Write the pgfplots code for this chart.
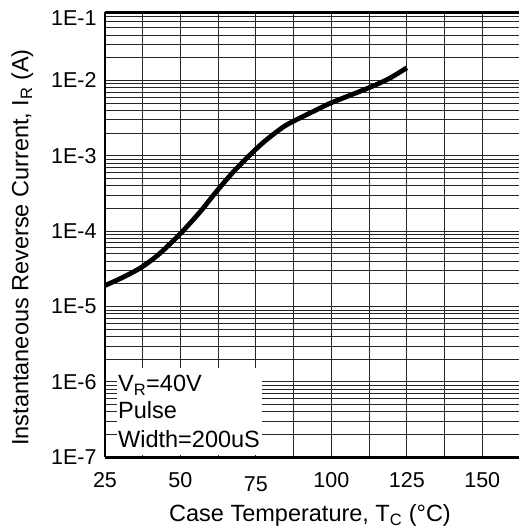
\documentclass[border=0pt]{standalone}
\usepackage{fontspec}
\setmainfont{Liberation Sans}
\usepackage{pgfplots}
\pgfplotsset{compat=1.18}

\newcommand{\bigfont}{\fontsize{23.5}{27}\selectfont}

\begin{document}
\begin{tikzpicture}[font=\fontsize{21.5}{25}\selectfont]
  \begin{axis}[
    scale only axis,
    width=415pt, height=445pt,
    ymode=log,
    xmin=25, xmax=162.5,
    ymin=1e-7, ymax=8e-2,
    xtick={25,50,75,100,125,150},
    xticklabels={25,50,\raisebox{-4pt}{75},100,125,150},
    minor x tick num=1,
    ytick={1e-7,1e-6,1e-5,1e-4,1e-3,1e-2},
    yticklabels={1E-7,1E-6,1E-5,1E-4,1E-3,1E-2},
    extra y ticks={6.8e-2},
    extra y tick labels={1E-1},
    extra y tick style={grid=none},
    minor ytick={2e-7,3e-7,4e-7,5e-7,6e-7,7e-7,8e-7,9e-7,
                 2e-6,3e-6,4e-6,5e-6,6e-6,7e-6,8e-6,9e-6,
                 2e-5,3e-5,4e-5,5e-5,6e-5,7e-5,8e-5,9e-5,
                 2e-4,3e-4,4e-4,5e-4,6e-4,7e-4,8e-4,9e-4,
                 2e-3,3e-3,4e-3,5e-3,6e-3,7e-3,8e-3,9e-3,
                 2e-2,3e-2,4e-2,5e-2,6e-2,7e-2},
    major tick length=0pt, minor tick length=0pt,
    grid=both,
    major grid style={black!85, line width=0.9pt},
    minor grid style={black!85, line width=0.9pt},
    axis x line=box, axis y line=left,
    axis line style={-, black, line width=2.6pt},
    xticklabel style={anchor=base, yshift=-29.7pt},
    yticklabel style={xshift=-5pt},
    xlabel={Case Temperature, T\textsubscript{C} (°C)},
    ylabel={Instantaneous Reverse Current, I\textsubscript{R} (A)},
    xlabel style={font=\bigfont, at={(rel axis cs:0.5,0)}, anchor=base,
                  xshift=-2.5pt, yshift=-64pt},
    ylabel style={font=\bigfont, at={(rel axis cs:0,0.5)}, anchor=base,
                  xshift=-12.7pt, yshift=76.7pt},
  ]
    \addplot[black, line width=4.8pt, smooth] coordinates {
      (25,1.9e-5) (31,2.45e-5) (37,3.3e-5) (43,5.0e-5) (50,9.3e-5)
      (56.5,1.8e-4) (61.5,3.2e-4) (67.5,6.1e-4) (74,1.12e-3)
      (78.5,1.63e-3) (84,2.4e-3) (87.5,2.88e-3) (93,3.7e-3)
      (99.5,4.95e-3) (106,6.3e-3) (112.5,8.0e-3) (119,1.05e-2) (125,1.47e-2)
    };
    \fill[white] (axis cs:29,1.06e-7) rectangle (axis cs:76.9,1.55e-6);
    \node[font=\bigfont, anchor=base west, inner sep=0pt] at (axis cs:29.3,7.5e-7) {V\textsubscript{R}=40V};
    \node[font=\bigfont, anchor=base west, inner sep=0pt] at (axis cs:29.3,3.24e-7) {Pulse};
    \node[font=\bigfont, anchor=base west, inner sep=0pt] at (axis cs:29.3,1.33e-7) {Width=200uS};
    \coordinate (bl) at (rel axis cs:0,0);
    \coordinate (tr) at (rel axis cs:1,1);
  \end{axis}
  \pgfresetboundingbox
  \path ([shift={(-105pt,-70.7pt)}]bl) rectangle ([shift={(-1pt,12.3pt)}]tr);
\end{tikzpicture}
\end{document}
